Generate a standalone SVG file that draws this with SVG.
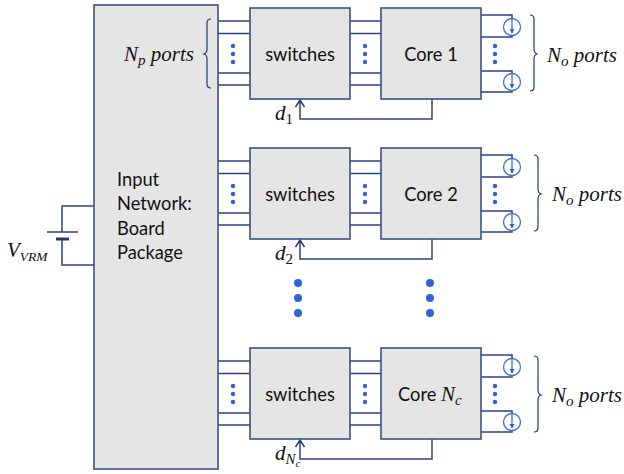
<svg xmlns="http://www.w3.org/2000/svg" width="624" height="474" viewBox="0 0 624 474">
<style>
.b{fill:#e5e5e5;stroke:#3a5288;stroke-width:1.6}
.w{fill:none;stroke:#2a4380;stroke-width:1.5}
.c{fill:none;stroke:#3d6fd6;stroke-width:1.3}
.d{fill:#2f62d8}
.k{fill:none;stroke:#1f3a70;stroke-width:1.2}
.t{font-family:Lato,Carlito,"Liberation Sans",sans-serif;font-size:18.3px;fill:#111}
.m{font-family:"Liberation Serif",serif;font-style:italic;font-size:21px;fill:#111}
.s{font-size:15px}
</style>
<defs>
<g id="dots"><circle cx="0" cy="-8" r="2.200" class="d"/><circle cx="0" cy="0" r="2.200" class="d"/><circle cx="0" cy="8" r="2.200" class="d"/></g>
<g id="wires">
<path class="w" d="M218 21H250M218 33.500H250M218 73H250M218 85H250M350 21H381M350 33.500H381M350 73H381M350 85H381"/>
<path class="w" d="M481 15H512V19M481 37H512V36M481 71H512V74M481 92H512V91"/>
<path class="c" d="M512 19V33"/><path class="c" d="M512 74V88"/>
<circle class="c" cx="512" cy="27" r="8.500"/><circle class="c" cx="512" cy="82" r="8.500"/>
<path d="M509.500 29H514.500L512 33.500Z" class="d"/><path d="M509.500 84H514.500L512 88.500Z" class="d"/>
<path class="w" d="M432 99V119H300V100M295.500 107L300 100L304.500 107"/>
</g>
<g id="rowdots"><use href="#dots" x="233" y="54"/><use href="#dots" x="365" y="54"/><use href="#dots" x="495" y="54"/></g>
</defs>
<g id="connectors">
<use href="#wires"/><use href="#wires" y="140"/><use href="#wires" y="340"/>
<use href="#rowdots"/><use href="#rowdots" y="140"/><use href="#rowdots" y="340"/>
<path class="w" d="M94 206H62V232M47 232H78M94 265H62V240"/>
<path d="M56 239H69" stroke="#1f3a70" stroke-width="3" fill="none"/>
</g>
<g id="input-network"><rect class="b" x="94" y="5" width="124" height="464"/>
<text class="t" x="117" y="186">Input</text><text class="t" x="117" y="210">Network:</text><text class="t" x="117" y="235">Board</text><text class="t" x="117" y="259">Package</text></g>
<g id="switches-1"><rect class="b" x="250" y="8" width="100" height="91"/><text class="t" x="300" y="61" text-anchor="middle">switches</text></g>
<g id="core-1"><rect class="b" x="381" y="8" width="100" height="91"/><text class="t" x="431" y="61" text-anchor="middle">Core 1</text></g>
<g id="switches-2"><rect class="b" x="250" y="148" width="100" height="91"/><text class="t" x="300" y="201" text-anchor="middle">switches</text></g>
<g id="core-2"><rect class="b" x="381" y="148" width="100" height="91"/><text class="t" x="431" y="201" text-anchor="middle">Core 2</text></g>
<g id="switches-3"><rect class="b" x="250" y="348" width="100" height="91"/><text class="t" x="300" y="401" text-anchor="middle">switches</text></g>
<g id="core-3"><rect class="b" x="381" y="348" width="100" height="91"/><text class="t" x="398" y="401">Core <tspan class="m">N<tspan class="s" dy="4">c</tspan></tspan></text></g>
<g id="dots-col"><circle class="d" cx="298" cy="283" r="4"/><circle class="d" cx="298" cy="298" r="4"/><circle class="d" cx="298" cy="313" r="4"/><circle class="d" cx="430" cy="283" r="4"/><circle class="d" cx="430" cy="298" r="4"/><circle class="d" cx="430" cy="313" r="4"/></g>
<g id="labels">
<path class="k" d="M211 19Q207 19 207 23V49Q207 53 204 54Q207 55 207 59V84Q207 88 211 88"/>
<path class="k" d="M530 15Q534 15 534 19V49Q534 53 537 54Q534 55 534 59V87Q534 91 530 91"/>
<path class="k" d="M534 155Q538 155 538 159V189Q538 193 541 194Q538 195 538 199V227Q538 231 534 231"/>
<path class="k" d="M534 356Q538 356 538 360V390Q538 394 541 395Q538 396 538 400V428Q538 432 534 432"/>
<text class="m" x="124" y="61">N<tspan class="s" dy="4">p</tspan><tspan dy="-4"> ports</tspan></text>
<text class="m" x="547" y="62">N<tspan class="s" dy="4">o</tspan><tspan dy="-4"> ports</tspan></text>
<text class="m" x="552" y="201">N<tspan class="s" dy="4">o</tspan><tspan dy="-4"> ports</tspan></text>
<text class="m" x="552" y="402">N<tspan class="s" dy="4">o</tspan><tspan dy="-4"> ports</tspan></text>
<text class="m" x="275" y="120">d<tspan class="s" dy="4" font-style="normal">1</tspan></text>
<text class="m" x="275" y="260">d<tspan class="s" dy="4" font-style="normal">2</tspan></text>
<text class="m" x="275" y="460">d<tspan class="s" dy="4">N</tspan><tspan font-size="11" dy="3">c</tspan></text>
<text class="m" x="7" y="257">V<tspan font-size="13.500" dy="4">VRM</tspan></text>
</g>
</svg>
